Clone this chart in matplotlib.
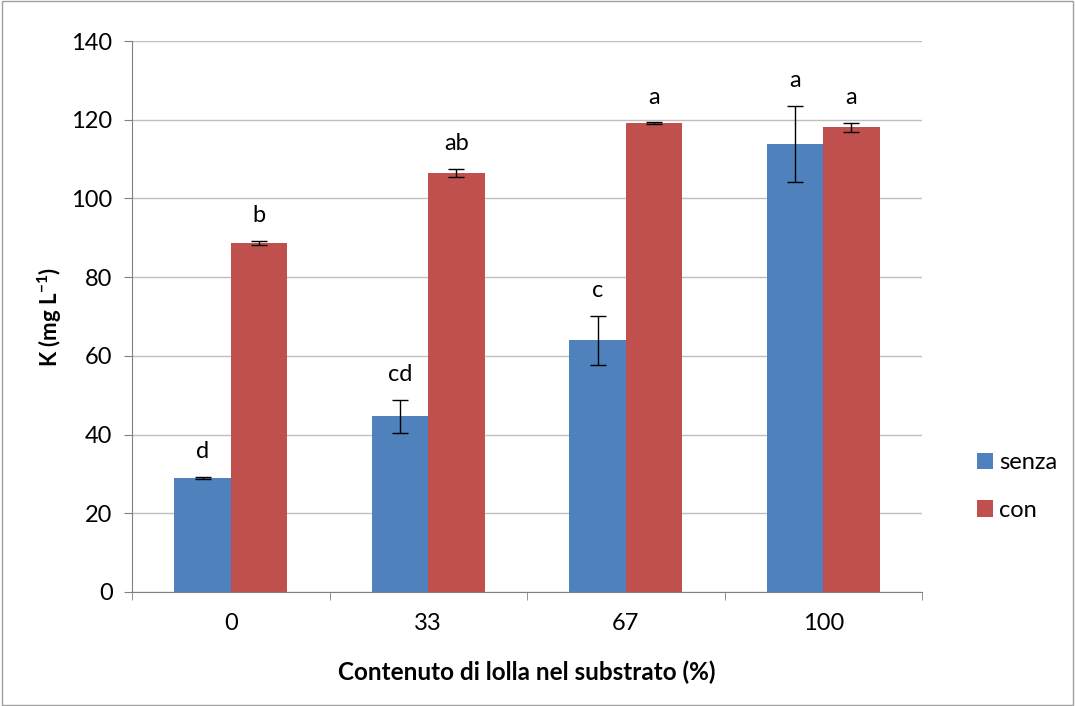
import matplotlib
matplotlib.use("Agg")
import matplotlib.pyplot as plt
import numpy as np
from matplotlib.patches import Rectangle

categories = ["0", "33", "67", "100"]
senza = [29.0, 44.7, 64.0, 113.8]
senza_err = [0.3, 4.2, 6.2, 9.6]
con = [88.6, 106.4, 119.1, 118.1]
con_err = [0.5, 1.0, 0.2, 1.1]
senza_letters = ["d", "cd", "c", "a"]
con_letters = ["b", "ab", "a", "a"]

blue = "#4F81BD"
red = "#C0504D"
font = "Lato"
fs = 17

plt.rcParams["font.family"] = [font, "DejaVu Sans"]
plt.rcParams["mathtext.fontset"] = "custom"
plt.rcParams["mathtext.rm"] = font
plt.rcParams["mathtext.bf"] = font + ":bold"

fig = plt.figure(figsize=(10.75, 7.06), dpi=100)
W, H = 1075, 706
ax = fig.add_axes([132 / W, 1 - 592 / H, (922 - 132) / W, (592 - 41) / H])

x = np.arange(len(categories))
bw = 0.286
ax.bar(x - bw / 2, senza, bw, color=blue, zorder=3, label="senza")
ax.bar(x + bw / 2, con, bw, color=red, zorder=3, label="con")
ax.errorbar(x - bw / 2, senza, yerr=senza_err, fmt="none", ecolor="black",
            elinewidth=1, capsize=6, capthick=1, zorder=4)
ax.errorbar(x + bw / 2, con, yerr=con_err, fmt="none", ecolor="black",
            elinewidth=1, capsize=6, capthick=1, zorder=4)

for i in range(len(categories)):
    ax.text(x[i] - bw / 2, senza[i] + senza_err[i] + 3.8, senza_letters[i],
            ha="center", va="bottom", fontsize=fs)
    ax.text(x[i] + bw / 2, con[i] + con_err[i] + 3.8, con_letters[i],
            ha="center", va="bottom", fontsize=fs)

ax.set_xlim(-0.5, len(categories) - 0.5)
ax.set_ylim(0, 140)
ax.set_yticks(np.arange(0, 141, 20))
ax.yaxis.grid(True, color="#BFBFBF", linewidth=1, zorder=0)
ax.set_axisbelow(True)

ax.set_xticks(x)
ax.set_xticklabels(categories, fontsize=fs)
ax.set_xticks(np.arange(-0.5, len(categories)), minor=True)
ax.tick_params(axis="x", which="major", length=0, pad=15)
ax.tick_params(axis="x", which="minor", length=6, color="#808080", direction="out")
ax.tick_params(axis="y", length=6, color="#808080", direction="out", labelsize=fs, pad=8)

for s in ["top", "right"]:
    ax.spines[s].set_visible(False)
for s in ["left", "bottom"]:
    ax.spines[s].set_color("#808080")

ax.set_ylabel("K (mg L$^{\\mathbf{-1}}$)", fontsize=16, fontweight="bold", labelpad=5)
ax.set_xlabel("Contenuto di lolla nel substrato (%)", fontsize=17.5, fontweight="bold", labelpad=19)

leg = fig.legend(*ax.get_legend_handles_labels(), loc="upper left",
                 bbox_to_anchor=(977 / W, 1 - 452 / H), frameon=False,
                 fontsize=fs, handlelength=0.68, handleheight=0.68, handletextpad=0.25,
                 labelspacing=1.13, borderpad=0, borderaxespad=0)

fig.patches.append(Rectangle((0.002, 0.002), 0.996, 0.996, transform=fig.transFigure,
                             fill=False, edgecolor="#A0A0A0", linewidth=1))

fig.savefig("out.png", dpi=100)
